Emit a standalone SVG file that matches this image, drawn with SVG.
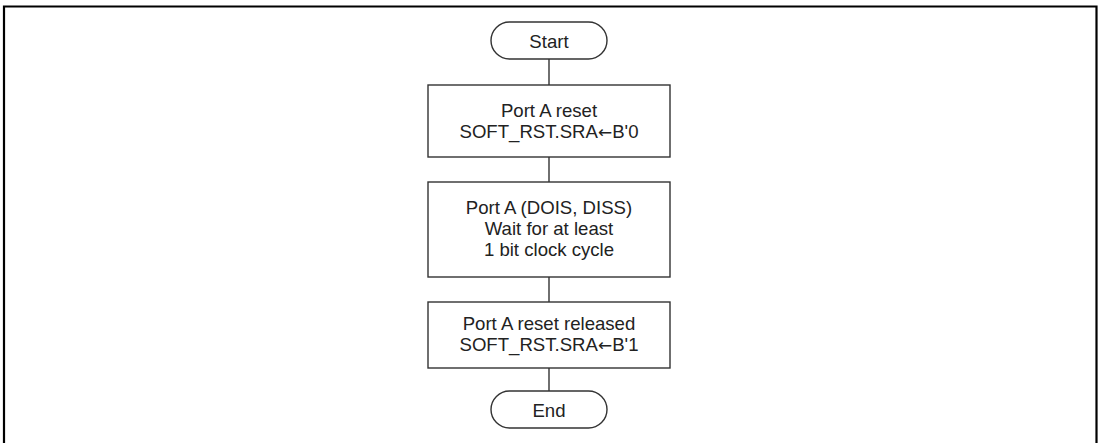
<svg xmlns="http://www.w3.org/2000/svg" width="1101" height="443" viewBox="0 0 1101 443">
<style>
.shape{fill:#fff;stroke:#333;stroke-width:1.4}
.conn{stroke:#333;stroke-width:1.4;fill:none}
text{font-family:"Liberation Sans",Arial,"DejaVu Sans",sans-serif;font-size:18.6px;fill:#222;text-anchor:middle}
.arr{font-family:"DejaVu Sans",sans-serif;font-size:17px}
</style>
<rect width="1101" height="443" fill="#fff"/>
<path d="M4 443 V6.5 H1096.5 V443" fill="none" stroke="#000" stroke-width="2.2"/>
<g id="connectors">
<line class="conn" x1="549" y1="59" x2="549" y2="85"/>
<line class="conn" x1="549" y1="157" x2="549" y2="182"/>
<line class="conn" x1="549" y1="277" x2="549" y2="302"/>
<line class="conn" x1="549" y1="368" x2="549" y2="391"/>
</g>
<g id="start">
<rect class="shape" x="491" y="22" width="116" height="37" rx="18.5"/>
<text x="549" y="48">Start</text>
</g>
<g id="reset">
<rect class="shape" x="428" y="85" width="242" height="72"/>
<text x="549" y="117">Port A reset</text>
<text x="549" y="137.5">SOFT_RST.SRA<tspan class="arr">←</tspan>B'0</text>
</g>
<g id="wait">
<rect class="shape" x="428" y="182" width="242" height="95"/>
<text x="549" y="214">Port A (DOIS, DISS)</text>
<text x="549" y="235">Wait for at least</text>
<text x="549" y="256">1 bit clock cycle</text>
</g>
<g id="release">
<rect class="shape" x="428" y="302" width="242" height="66"/>
<text x="549" y="330">Port A reset released</text>
<text x="549" y="351">SOFT_RST.SRA<tspan class="arr">←</tspan>B'1</text>
</g>
<g id="end">
<rect class="shape" x="491" y="391" width="116" height="37" rx="18.5"/>
<text x="549" y="417">End</text>
</g>
</svg>
